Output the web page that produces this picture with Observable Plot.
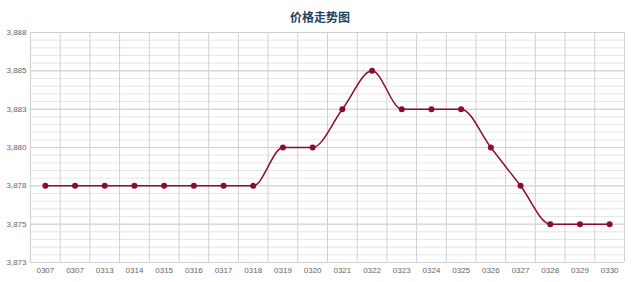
<!DOCTYPE html>
<html>
<head>
<meta charset="utf-8">
<script src="https://cdn.jsdelivr.net/npm/d3@7"></script>
<script src="https://cdn.jsdelivr.net/npm/@observablehq/plot@0.6"></script>
<style>
  body { margin: 0; background: #fff; }
  #title { height: 22px; padding-top: 6px; line-height: 22px; text-align: center;
    font-family: "Noto Sans CJK SC", sans-serif; font-weight: bold; font-size: 12px; color: #253f5e; }
</style>
</head>
<body>
<div id="title">价格走势图</div>
<div id="chart"></div>
<script>
const dates = ["0307","0307","0313","0314","0315","0316","0317","0318","0319","0320","0321","0322","0323","0324","0325","0326","0327","0328","0329","0330"];
const prices = [3877.5,3877.5,3877.5,3877.5,3877.5,3877.5,3877.5,3877.5,3880,3880,3882.5,3885,3882.5,3882.5,3882.5,3880,3877.5,3875,3875,3875];
const yMajorTicks = [3872.5,3875,3877.5,3880,3882.5,3885,3887.5];
const yMinorTicks = d3.range(3872.5, 3887.51, 0.5);

const data = dates.map((d, i) => ({i, date: d, price: prices[i]}));
const bandEdges = d3.range(dates.length + 1).map(k => k - 0.5);

const chart = Plot.plot({
  width: 640,
  height: 254,
  marginTop: 4,
  marginBottom: 20,
  marginLeft: 30,
  marginRight: 16,
  style: {fontFamily: "Liberation Sans, Arial, sans-serif", fontSize: "8px", color: "#666"},
  x: {domain: [-0.5, dates.length - 0.5], ticks: d3.range(dates.length), tickFormat: i => dates[i], tickSize: 0, tickPadding: 5, label: null},
  y: {domain: [3872.5, 3887.5], ticks: yMajorTicks, tickFormat: d3.format(",.0f"), tickSize: 0, tickPadding: 4, label: null},
  marks: [
    Plot.ruleY(yMinorTicks, {stroke: "#e6e6e6", strokeWidth: 1}),
    Plot.ruleY(yMajorTicks, {stroke: "#cfcfcf", strokeWidth: 1}),
    Plot.ruleX(bandEdges, {stroke: "#d0d0d0", strokeWidth: 1}),
    Plot.line(data, {x: "i", y: "price", stroke: "#8c0a3a", strokeWidth: 1.5, curve: "monotone-x"}),
    Plot.dot(data, {x: "i", y: "price", r: 3, fill: "#8c0a3a", stroke: "none"})
  ]
});
document.getElementById("chart").appendChild(chart);
</script>
</body>
</html>
